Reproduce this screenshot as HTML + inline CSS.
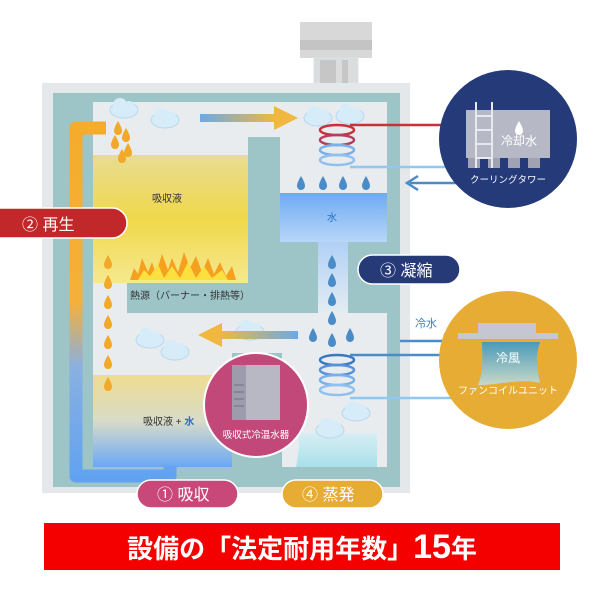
<!DOCTYPE html>
<html><head><meta charset="utf-8"><style>
html,body{margin:0;padding:0;background:#fff;width:600px;height:600px;overflow:hidden}
svg{display:block}
text{font-family:"Liberation Sans","Noto Sans CJK JP",sans-serif}
</style></head><body>
<svg width="600" height="600" viewBox="0 0 600 600" xmlns="http://www.w3.org/2000/svg">
<defs>
<linearGradient id="yt" x1="0" y1="0" x2="0" y2="1"><stop offset="0" stop-color="#e8dc92"/><stop offset="0.5" stop-color="#f0d84a"/><stop offset="1" stop-color="#f6e890"/></linearGradient>
<linearGradient id="yb" x1="0" y1="0" x2="0" y2="1"><stop offset="0" stop-color="#eedc90"/><stop offset="0.5" stop-color="#d8dcc8"/><stop offset="1" stop-color="#6aa8f4"/></linearGradient>
<linearGradient id="pipe" gradientUnits="userSpaceOnUse" x1="0" y1="120" x2="0" y2="483"><stop offset="0" stop-color="#f5ac2a"/><stop offset="0.5" stop-color="#f5b03a"/><stop offset="0.68" stop-color="#8ab0e0"/><stop offset="1" stop-color="#5fa2f2"/></linearGradient>
<linearGradient id="wt" x1="0" y1="0" x2="0" y2="1"><stop offset="0" stop-color="#6eaaf2"/><stop offset="1" stop-color="#b8d6f8"/></linearGradient>
<linearGradient id="ch" x1="0" y1="0" x2="0" y2="1"><stop offset="0" stop-color="#b0d0f6"/><stop offset="1" stop-color="#e4ecf2"/></linearGradient>
<linearGradient id="ar1" x1="0" y1="0" x2="1" y2="0"><stop offset="0" stop-color="#6aaae8"/><stop offset="1" stop-color="#f0b840"/></linearGradient>
<linearGradient id="ar2" x1="1" y1="0" x2="0" y2="0"><stop offset="0" stop-color="#6aaae8"/><stop offset="1" stop-color="#f0b840"/></linearGradient>
<linearGradient id="cw" x1="0" y1="0" x2="0" y2="1"><stop offset="0" stop-color="#d8eef4"/><stop offset="1" stop-color="#a8e0ea"/></linearGradient>
<linearGradient id="fw" x1="0" y1="0" x2="0" y2="1"><stop offset="0" stop-color="#4a9ab8"/><stop offset="1" stop-color="#c8d8c8"/></linearGradient>
<g id="cl"><ellipse cx="0" cy="0" rx="14" ry="8" fill="#d6ecf8" stroke="#b8d8ee"/><circle cx="-4" cy="-5" r="7" fill="#d6ecf8"/><circle cx="5" cy="-3" r="6" fill="#d6ecf8"/></g>
<path id="dr" d="M0,-7 C3,-2 4,1 4,3 A4,4 0 0 1 -4,3 C-4,1 -3,-2 0,-7Z"/>
</defs>

<rect x="300" y="22" width="72" height="36" fill="#d8d8d8"/>
<rect x="300" y="40" width="72" height="10" fill="#c4c4c4"/>
<rect x="314" y="58" width="44" height="25" fill="#dcdcdc" stroke="#d0e8e8"/>
<rect x="320" y="60" width="16" height="23" fill="#c6c6c6"/><rect x="342" y="60" width="6" height="23" fill="#c6c6c6"/>

<rect x="42" y="83" width="368" height="410" fill="#e4e8eb"/>
<rect x="53" y="93" width="347" height="394" fill="#9dc4c6"/>
<rect x="93" y="102" width="294" height="365" fill="#e8ecef"/>
<rect x="93" y="155" width="155" height="128" fill="url(#yt)"/>
<rect x="248" y="137" width="32" height="176" fill="#9dc4c6"/>
<rect x="127" y="283" width="191" height="30" fill="#9dc4c6"/>
<rect x="280" y="193" width="107" height="49" fill="url(#wt)"/>
<rect x="280" y="242" width="38" height="71" fill="#9dc4c6"/>
<rect x="318" y="242" width="30" height="71" fill="url(#ch)"/>
<rect x="348" y="242" width="39" height="71" fill="#9dc4c6"/>
<rect x="93" y="375" width="139" height="92" fill="url(#yb)"/>
<rect x="232" y="353" width="50" height="114" fill="#9dc4c6"/>
<path d="M296,467 C300,445 300,440 296,433 L377,433 L377,467Z" fill="url(#cw)"/>

<path d="M106,128 L76,128 L76,476 L170,476 L170,466" fill="none" stroke="url(#pipe)" stroke-width="13" stroke-linejoin="round"/>
<g fill="#f2a828"><use href="#dr" x="118" y="128"/><use href="#dr" x="126" y="135"/><use href="#dr" x="115" y="142"/><use href="#dr" x="128" y="150"/><use href="#dr" x="122" y="156"/></g>
<g fill="#f2a828"><use href="#dr" x="108" y="262"/><use href="#dr" x="108" y="282"/><use href="#dr" x="108" y="302"/><use href="#dr" x="108" y="322"/><use href="#dr" x="108" y="342"/><use href="#dr" x="108" y="362"/><use href="#dr" x="108" y="384"/></g>
<path d="M130,280 L134,268 L138,274 L142,258 L148,272 L152,262 L156,274 L162,254 L168,270 L172,258 L178,272 L184,252 L190,268 L196,256 L202,272 L208,258 L214,274 L220,262 L226,276 L232,266 L236,280Z" fill="#f6a020"/>
<path d="M138,280 L144,270 L150,276 L158,264 L164,278 L172,266 L180,278 L188,262 L196,278 L204,266 L212,278 L222,270 L228,280Z" fill="#fbe040"/>
<use href="#cl" x="124" y="110"/><use href="#cl" x="165" y="120"/>
<use href="#cl" x="318" y="118"/><use href="#cl" x="350" y="116"/>
<use href="#cl" x="150" y="340"/><use href="#cl" x="175" y="352"/>
<use href="#cl" x="250" y="332"/>
<use href="#cl" x="356" y="413"/><use href="#cl" x="330" y="430"/>
<rect x="200" y="114" width="75" height="8" fill="url(#ar1)"/>
<path d="M274,106 L298,118 L274,130Z" fill="#f0b840"/>
<rect x="220" y="331" width="78" height="8" fill="url(#ar2)"/>
<path d="M222,323 L198,335 L222,347Z" fill="#f0b840"/>
<g fill="#4a8cc8"><use href="#dr" x="301" y="183"/><use href="#dr" x="323" y="183"/><use href="#dr" x="343" y="183"/><use href="#dr" x="366" y="183"/>
<use href="#dr" x="332" y="262"/><use href="#dr" x="332" y="280"/><use href="#dr" x="332" y="299"/><use href="#dr" x="332" y="318"/><use href="#dr" x="332" y="340"/><use href="#dr" x="313" y="335"/><use href="#dr" x="350" y="335"/></g>
<g fill="none" stroke-width="2.5">
<ellipse cx="337" cy="130" rx="17" ry="5" stroke="#c8303a"/><ellipse cx="337" cy="140" rx="17" ry="5" stroke="#b04060"/><ellipse cx="337" cy="150" rx="17" ry="5" stroke="#7ab0e8"/><ellipse cx="337" cy="160" rx="17" ry="5" stroke="#90c0f0"/>
<ellipse cx="337" cy="360" rx="17" ry="5" stroke="#3a78c0"/><ellipse cx="337" cy="370" rx="17" ry="5" stroke="#5a90d8"/><ellipse cx="337" cy="380" rx="17" ry="5" stroke="#7ab0e8"/><ellipse cx="337" cy="390" rx="17" ry="5" stroke="#90c0f0"/>
</g>
<line x1="350" y1="125" x2="455" y2="125" stroke="#c8303a" stroke-width="2.5"/>
<line x1="350" y1="167" x2="455" y2="167" stroke="#90c8f0" stroke-width="2.5"/>
<line x1="410" y1="183" x2="462" y2="183" stroke="#4a8cc8" stroke-width="2.5"/>
<path d="M418,176 L407,183 L418,190" fill="none" stroke="#4a8cc8" stroke-width="2.5"/>
<line x1="400" y1="341" x2="452" y2="341" stroke="#4a8cc8" stroke-width="2.5"/>
<path d="M444,334 L455,341 L444,348" fill="none" stroke="#4a8cc8" stroke-width="2.5"/>
<line x1="350" y1="355" x2="455" y2="355" stroke="#4a8cc8" stroke-width="2.5"/>
<line x1="350" y1="398" x2="455" y2="398" stroke="#90c8f0" stroke-width="2.5"/>
<text x="415" y="327" font-size="11" fill="#3a80c0">冷水</text>

<circle cx="508" cy="139" r="69" fill="#253a78"/>
<rect x="466" y="110" width="84" height="48" fill="#b6b8c6"/>
<rect x="468" y="158" width="12" height="10" fill="#a0a2b2"/><rect x="488" y="158" width="12" height="10" fill="#a0a2b2"/><rect x="508" y="158" width="12" height="10" fill="#a0a2b2"/><rect x="528" y="158" width="12" height="10" fill="#a0a2b2"/>
<g stroke="#e8e8f0" stroke-width="2"><line x1="476" y1="102" x2="476" y2="168"/><line x1="492" y1="102" x2="492" y2="168"/><line x1="476" y1="116" x2="492" y2="116"/><line x1="476" y1="130" x2="492" y2="130"/><line x1="476" y1="144" x2="492" y2="144"/><line x1="476" y1="158" x2="492" y2="158"/></g>
<use href="#dr" x="519" y="128" fill="#fff"/>
<text x="519" y="145" font-size="12" fill="#fff" text-anchor="middle">冷却水</text>
<text x="508" y="183" font-size="9.5" fill="#fff" text-anchor="middle">クーリングタワー</text>

<circle cx="508" cy="360" r="69" fill="#e6ac33"/>
<rect x="478" y="323" width="58" height="10" fill="#c4c6d2"/><rect x="458" y="333" width="100" height="6" fill="#c4c6d2"/>
<path d="M482,342 L540,342 C534,360 538,370 540,383 C520,378 500,385 478,385 C484,370 482,356 482,342Z" fill="url(#fw)"/>
<text x="508" y="362" font-size="12" fill="#fff" text-anchor="middle">冷風</text>
<text x="508" y="394" font-size="10" fill="#fff" text-anchor="middle">ファンコイルユニット</text>

<circle cx="256" cy="405" r="52" fill="#c2487a" stroke="#fff" stroke-width="2"/>
<rect x="232" y="365" width="48" height="55" fill="#b8b8c4"/><rect x="232" y="365" width="14" height="55" fill="#9c9cac"/>
<g stroke="#7e7e8e" stroke-width="1.5"><line x1="234" y1="385" x2="244" y2="385"/><line x1="234" y1="392" x2="244" y2="392"/><line x1="234" y1="399" x2="244" y2="399"/><line x1="234" y1="406" x2="244" y2="406"/></g>
<text x="256" y="438" font-size="9.5" fill="#fff" text-anchor="middle">吸収式冷温水器</text>

<text x="167" y="202" font-size="10" fill="#333" text-anchor="middle">吸収液</text>
<text x="130" y="299" font-size="10" fill="#333">熱源（バーナー・排熱等）</text>
<text x="332" y="221" font-size="10" fill="#2a70c0" text-anchor="middle">水</text>
<text x="143" y="425" font-size="10" fill="#333">吸収液 + <tspan fill="#2a70c0" font-weight="bold">水</tspan></text>

<rect x="-20" y="208" width="147" height="30" rx="15" fill="#c0282a" stroke="#fff" stroke-width="1.5"/>
<text x="22" y="230" font-size="16" fill="#fff">② 再生</text>
<rect x="358" y="255" width="102" height="29" rx="14.5" fill="#263a78" stroke="#fff" stroke-width="1.5"/>
<text x="380" y="276" font-size="16" fill="#fff">③ 凝縮</text>
<rect x="137" y="480" width="101" height="28" rx="14" fill="#c8487a" stroke="#fff" stroke-width="1.5"/>
<text x="157" y="500" font-size="16" fill="#fff">① 吸収</text>
<rect x="282" y="480" width="101" height="28" rx="14" fill="#e6ac33" stroke="#fff" stroke-width="1.5"/>
<text x="302" y="500" font-size="16" fill="#fff">④ 蒸発</text>

<rect x="44" y="523" width="516" height="47" fill="#f50000"/>
<text x="302" y="558" font-size="26" font-weight="bold" fill="#fff" text-anchor="middle">設備の「法定耐用年数」<tspan font-size="34">15</tspan>年</text>
</svg>
</body></html>
